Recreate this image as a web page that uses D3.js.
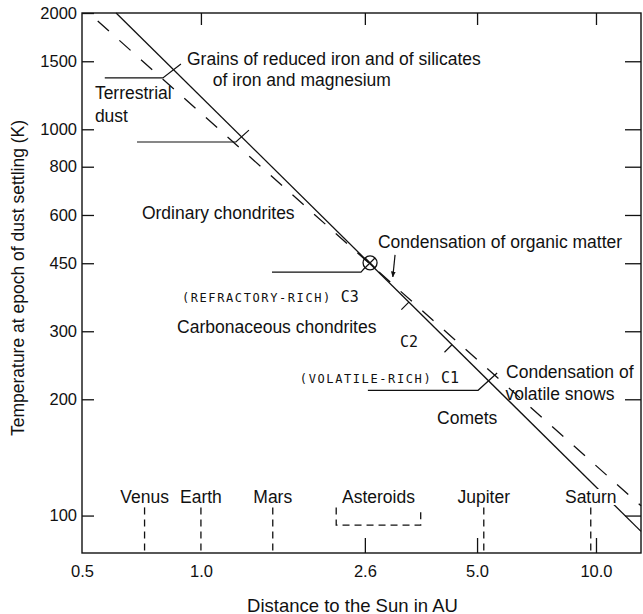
<!DOCTYPE html>
<html>
<head>
<meta charset="utf-8">
<script src="https://cdn.jsdelivr.net/npm/d3@7"></script>
<style>
body { margin: 0; background: #fff; }
svg text { font-family: "Liberation Sans", Arial, sans-serif; fill: #111; }
</style>
</head>
<body>
<svg id="chart" width="643" height="614"></svg>
<script>
// axis ticks
const yTicks = [100, 200, 300, 450, 600, 800, 1000, 1500, 2000];
const xTickValues = [0.5, 1.0, 2.6, 5.0, 10.0];
const xTickLabels = ['0.5', '1.0', '2.6', '5.0', '10.0'];
const bottomMarks = [2.6, 5.0, 10.0];
const topMarks = [1.0, 2.6, 5.0, 10.0];

// the two temperature curves (distance AU, temperature K)
const solidLine = [[0.61, 2000], [13, 91]];
const dashedLine = [[0.548, 1906], [13, 106]];

// planets along the bottom
const planetNames = ['Venus', 'Earth', 'Mars', 'Jupiter', 'Saturn'];
const planetDist = [0.72, 1.0, 1.52, 5.2, 9.7];
const asteroidBelt = [2.2, 3.6];
const planetTop = 105, asteroidBottom = 94.5, planetLabelT = 111.7;

// leader lines (horizontal then crossing the solid line)
const leaders = [
    [[0.571, 1358], [0.801, 1358], [0.89, 1476]],
    [[0.689, 927], [1.226, 927], [1.323, 995]],
    [[1.513, 427], [2.542, 427], [2.6, 438]],
    [[2.646, 211], [5.03, 211], [5.62, 234]]
];
const organicPoint = [2.68, 451];
const c2Marks = [3.36, 4.32];
const arrowPts = [[3.1, 473], [3.06, 415]];

// text labels, start anchored
const labelText = ['Grains of reduced iron and of silicates', 'of iron and magnesium', 'Terrestrial', 'dust',
    'Ordinary chondrites', 'Condensation of organic matter', 'Carbonaceous chondrites',
    'Condensation of', 'volatile snows', 'Comets'];
const labelPos = [[0.922, 1520], [1.072, 1342], [0.539, 1238], [0.539, 1085],
    [0.709, 607], [2.806, 511], [0.87, 308],
    [5.92, 236], [5.9, 207], [3.96, 179]];

let svg = d3.select('#chart');
let x = d3.scaleLog().domain([0.5, 13]).range([82, 641]);
let y = d3.scaleLog().domain([80, 2000]).range([553, 13]);

let x0 = x(0.5), x1 = x(13), yTop = y(2000), yBot = y(80);
let fontFam = '"Liberation Sans", Arial, sans-serif';

// frame
svg.append('rect')
    .attr('x', x0).attr('y', yTop)
    .attr('width', x1 - x0).attr('height', yBot - yTop)
    .attr('fill', 'none').attr('stroke', '#111').attr('stroke-width', 1.4);

// left axis, ticks pointing inward
let leftAxis = svg.append('g')
    .attr('transform', 'translate(' + x0 + ',0)')
    .call(d3.axisLeft(y).tickValues(yTicks).tickSize(-12).tickSizeOuter(0).tickPadding(5).tickFormat(d3.format('d')));
leftAxis.select('.domain').remove();
leftAxis.selectAll('text').attr('font-size', 16.5).attr('font-family', fontFam).attr('fill', '#111');
leftAxis.selectAll('line').attr('stroke', '#111').attr('stroke-width', 1.3);

// right axis ticks
let rightAxis = svg.append('g')
    .attr('transform', 'translate(' + x1 + ',0)')
    .call(d3.axisRight(y).tickValues(yTicks.filter(d => d < 2000)).tickSize(-16).tickSizeOuter(0).tickFormat(''));
rightAxis.select('.domain').remove();
rightAxis.selectAll('line').attr('stroke', '#111').attr('stroke-width', 1.3);

// bottom labels
let bottomAxis = svg.append('g')
    .attr('transform', 'translate(0,' + yBot + ')')
    .call(d3.axisBottom(x).tickValues(xTickValues).tickSize(0).tickPadding(12)
        .tickFormat((d, i) => xTickLabels[i]));
bottomAxis.select('.domain').remove();
bottomAxis.selectAll('text').attr('font-size', 16.5).attr('font-family', fontFam).attr('fill', '#111');

// bottom inward marks
let bottomTicks = svg.append('g')
    .attr('transform', 'translate(0,' + yBot + ')')
    .call(d3.axisBottom(x).tickValues(bottomMarks).tickSize(-15).tickSizeOuter(0).tickFormat(''));
bottomTicks.select('.domain').remove();
bottomTicks.selectAll('line').attr('stroke', '#111').attr('stroke-width', 1.3);

// top inward marks
let topTicks = svg.append('g')
    .attr('transform', 'translate(0,' + yTop + ')')
    .call(d3.axisTop(x).tickValues(topMarks).tickSize(-12).tickSizeOuter(0).tickFormat(''));
topTicks.select('.domain').remove();
topTicks.selectAll('line').attr('stroke', '#111').attr('stroke-width', 1.3);

// axis titles
svg.append('text')
    .attr('x', (x0 + x1) / 2 - 9).attr('y', 605)
    .attr('text-anchor', 'middle').attr('dominant-baseline', 'central')
    .attr('font-size', 18.5)
    .text('Distance to the Sun in AU');

svg.append('text')
    .attr('transform', 'translate(18,' + ((yTop + yBot) / 2 - 5) + ') rotate(-90)')
    .attr('text-anchor', 'middle').attr('dominant-baseline', 'central')
    .attr('font-size', 17.5)
    .text('Temperature at epoch of dust settling (K)');

let line = d3.line().x(d => x(d[0])).y(d => y(d[1]));

// planet dashed markers
svg.append('g').selectAll('line')
    .data(planetDist)
    .join('line')
    .attr('x1', d => x(d)).attr('x2', d => x(d))
    .attr('y1', y(planetTop)).attr('y2', yBot)
    .attr('stroke', '#111').attr('stroke-width', 1.3)
    .attr('stroke-dasharray', '7,5');

svg.append('path')
    .attr('d', line([[asteroidBelt[0], planetTop], [asteroidBelt[0], asteroidBottom],
        [asteroidBelt[1], asteroidBottom], [asteroidBelt[1], planetTop]]))
    .attr('fill', 'none').attr('stroke', '#111').attr('stroke-width', 1.3)
    .attr('stroke-dasharray', '7,5');

// curves
svg.append('path')
    .attr('d', line(dashedLine))
    .attr('fill', 'none').attr('stroke', '#111').attr('stroke-width', 1.3)
    .attr('stroke-dasharray', '15,14');

svg.append('path')
    .attr('d', line(solidLine))
    .attr('fill', 'none').attr('stroke', '#111').attr('stroke-width', 1.3);

// leader lines
svg.append('g').selectAll('path')
    .data(leaders)
    .join('path')
    .attr('d', line)
    .attr('fill', 'none').attr('stroke', '#111').attr('stroke-width', 1.2);

// organic matter point (circle with cross)
let cx = x(organicPoint[0]), cy = y(organicPoint[1]), cr = 7;
svg.append('circle')
    .attr('cx', cx).attr('cy', cy).attr('r', cr)
    .attr('fill', 'none').attr('stroke', '#111').attr('stroke-width', 1.3);
svg.append('path')
    .attr('d', 'M' + (cx - cr * 0.7) + ',' + (cy - cr * 0.7) + 'L' + (cx + cr * 0.7) + ',' + (cy + cr * 0.7) +
        'M' + (cx - cr * 0.7) + ',' + (cy + cr * 0.7) + 'L' + (cx + cr * 0.7) + ',' + (cy - cr * 0.7))
    .attr('stroke', '#111').attr('stroke-width', 1.2);

// C2 range marks on solid line
function solidT(r) {
    let a = solidLine[0], b = solidLine[1];
    let t = (Math.log(r) - Math.log(a[0])) / (Math.log(b[0]) - Math.log(a[0]));
    return Math.exp(Math.log(a[1]) + t * (Math.log(b[1]) - Math.log(a[1])));
}
svg.append('g').selectAll('line')
    .data(c2Marks)
    .join('line')
    .attr('x1', d => x(d)).attr('y1', d => y(solidT(d)))
    .attr('x2', d => x(d) - 7.5).attr('y2', d => y(solidT(d)) + 7.5)
    .attr('stroke', '#111').attr('stroke-width', 1.2);

// arrow to the condensation point
svg.append('defs').append('marker')
    .attr('id', 'head').attr('viewBox', '0 0 10 10')
    .attr('refX', 9).attr('refY', 5)
    .attr('markerWidth', 5).attr('markerHeight', 7)
    .attr('orient', 'auto')
    .append('path').attr('d', 'M0,1L10,5L0,9Z').attr('fill', '#111');
svg.append('path')
    .attr('d', line(arrowPts))
    .attr('stroke', '#111').attr('stroke-width', 1.2)
    .attr('marker-end', 'url(#head)');

// text labels
svg.append('g').selectAll('text')
    .data(labelText)
    .join('text')
    .attr('x', (d, i) => x(labelPos[i][0]))
    .attr('y', (d, i) => y(labelPos[i][1]))
    .attr('dominant-baseline', 'central')
    .attr('font-size', 17.5)
    .text(d => d);

// chondrite type labels in lettering style
function typeLabel(r, T, small, big) {
    let t = svg.append('text')
        .attr('x', x(r)).attr('y', y(T)).attr('dy', 4.5)
        .style('font-family', '"DejaVu Sans Mono", "Liberation Mono", monospace');
    t.append('tspan').attr('font-size', 12).attr('letter-spacing', 1.6).text(small);
    t.append('tspan').attr('font-size', 15).attr('letter-spacing', 0).text(big);
}
typeLabel(0.895, 366, '(REFRACTORY-RICH) ', 'C3');
typeLabel(1.78, 227, '(VOLATILE-RICH) ', 'C1');
typeLabel(3.19, 280, '', 'C2');

// planet labels, with a white backing so the line breaks behind them
let planetLabels = svg.append('g');
planetNames.concat(['Asteroids']).forEach(function(name, i) {
    let r = i < planetDist.length ? planetDist[i] : Math.sqrt(asteroidBelt[0] * asteroidBelt[1]);
    let g = planetLabels.append('g');
    let t = g.append('text')
        .attr('x', x(r)).attr('y', y(planetLabelT))
        .attr('text-anchor', 'middle').attr('dominant-baseline', 'central')
        .attr('font-size', 17.5)
        .text(name);
    let bb = t.node().getBBox();
    g.insert('rect', 'text')
        .attr('x', bb.x - 1).attr('y', bb.y + 2)
        .attr('width', bb.width + 2).attr('height', bb.height - 4)
        .attr('fill', '#fff');
});
</script>
</body>
</html>
